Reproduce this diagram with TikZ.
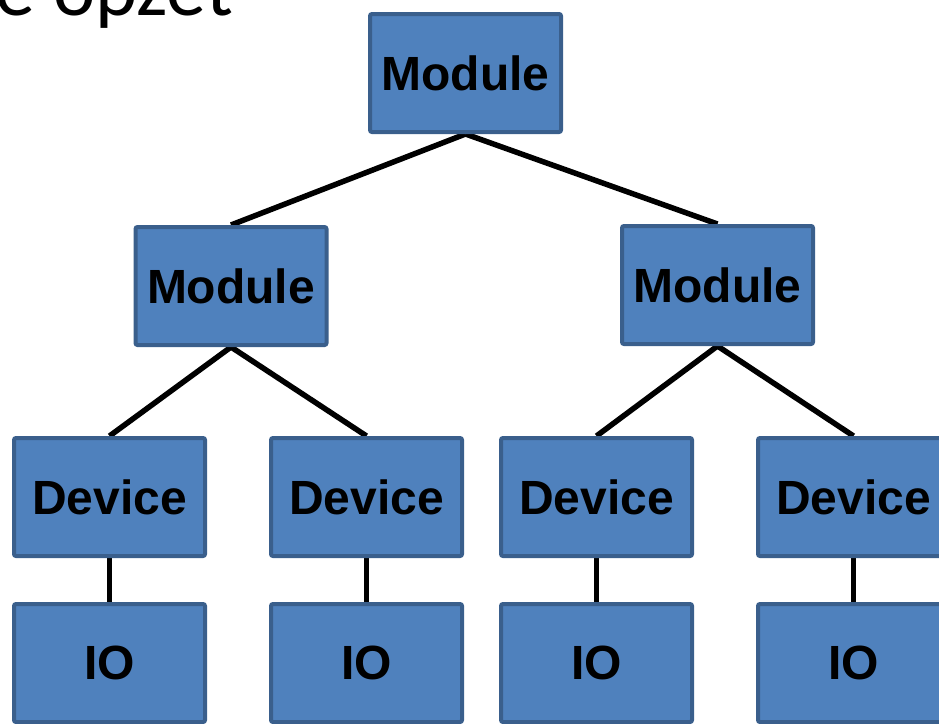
\documentclass[tikz,border=0pt]{standalone}
\usepackage{fontspec}
\setmainfont{Liberation Sans}
\newfontfamily\titlefont{Carlito}
\usetikzlibrary{backgrounds}
\definecolor{boxfill}{HTML}{4F81BD}
\definecolor{boxline}{HTML}{3A5F8C}
\tikzset{
  blockbox/.style={draw=boxline, fill=boxfill, line width=4pt, rounded corners=2pt,
    minimum width=191pt, minimum height=118pt, inner sep=0pt,
    font=\fontsize{48}{50}\selectfont\bfseries, text=black},
  link/.style={line width=5.5pt, black}
}
\begin{document}
\begin{tikzpicture}[x=1pt,y=-1pt]
\useasboundingbox (0,0) rectangle (939,723);
\clip (0,0) rectangle (939,723);
\node[anchor=base east, inner sep=0pt, font=\titlefont\fontsize{80}{90}\selectfont] (title) at (233,15) {e opzet};
\node[blockbox] (m0) at (465.5,73) {Module};
\node[blockbox] (m1) at (231,286) {Module};
\node[blockbox] (m2) at (717.5,285) {Module};
\node[blockbox] (d1) at (109.5,497) {Device};
\node[blockbox] (d2) at (366.5,497) {Device};
\node[blockbox] (d3) at (596.5,497) {Device};
\node[blockbox] (d4) at (853.5,497) {Device};
\node[blockbox] (i1) at (109.5,663) {IO};
\node[blockbox] (i2) at (366.5,663) {IO};
\node[blockbox] (i3) at (596.5,663) {IO};
\node[blockbox] (i4) at (853.5,663) {IO};
\begin{scope}[on background layer]
\draw[link] (m0.south) -- (m1.north);
\draw[link] (m0.south) -- (m2.north);
\draw[link] (m1.south) -- (d1.north);
\draw[link] (m1.south) -- (d2.north);
\draw[link] (m2.south) -- (d3.north);
\draw[link] (m2.south) -- (d4.north);
\draw[link] (d1.south) -- (i1.north);
\draw[link] (d2.south) -- (i2.north);
\draw[link] (d3.south) -- (i3.north);
\draw[link] (d4.south) -- (i4.north);
\end{scope}
\end{tikzpicture}
\end{document}
